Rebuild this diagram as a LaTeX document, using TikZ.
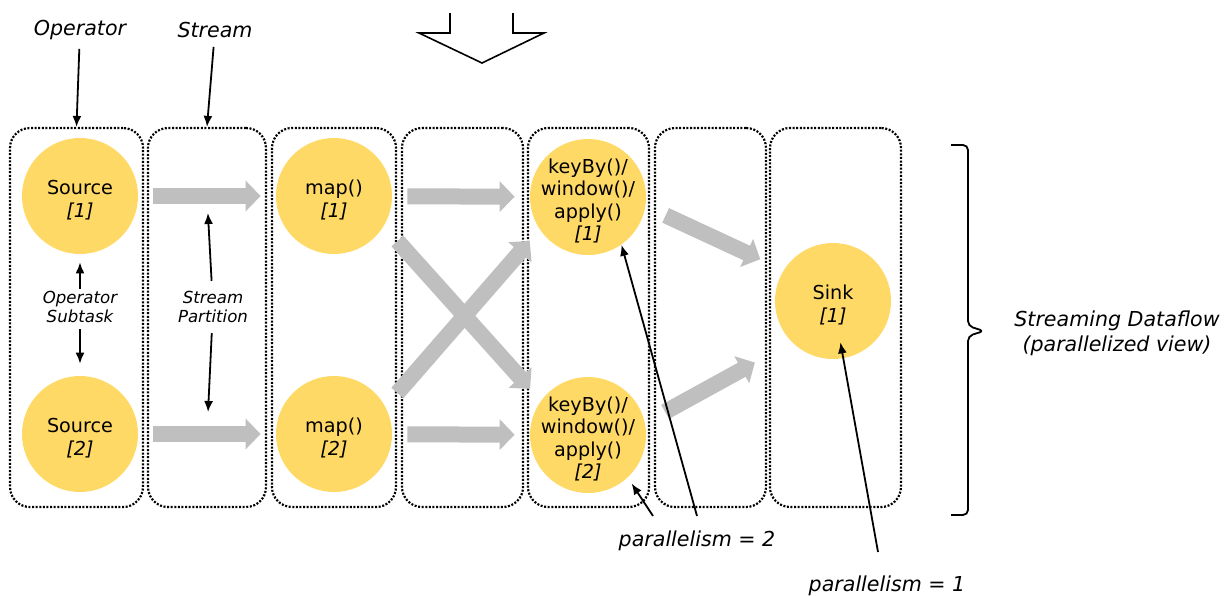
\documentclass[tikz,border=0pt]{standalone}
\usepackage{fontspec}
\setmainfont{DejaVu Sans}
\usetikzlibrary{arrows.meta}

\definecolor{taskfill}{HTML}{FFD966}
\definecolor{flowgray}{HTML}{BFBFBF}
\newcommand{\rowA}{196}
\newcommand{\rowB}{434}
\newcommand{\colMid}{317.5}
% taller first line, pushes the circle text a bit down
\newcommand{\tasktop}{\rule{0pt}{11.3pt}}

\tikzset{
  stage/.style={draw, line width=1.1pt, dash pattern=on 1pt off 0.8pt,
    rounded corners=10pt, minimum height=189.5pt, inner sep=0pt},
  task/.style={circle, fill=taskfill, minimum size=58pt, inner sep=-10pt,
    align=center, font=\fontsize{9.6}{11.3}\selectfont},
  flow/.style={flowgray, line width=8pt, -{Triangle[width=15pt,length=7.5pt]},
    shorten <=7.5pt, shorten >=7.5pt},
  note/.style={font=\fontsize{10.3}{12.4}\selectfont\itshape, align=center},
  smallnote/.style={font=\fontsize{8.3}{9.5}\selectfont\itshape, align=center, inner sep=1pt},
  pointer/.style={line width=0.9pt, -{Latex[length=5.5pt,width=4.5pt]}}
}

\begin{document}
\begin{tikzpicture}[x=0.5pt, y=-0.5pt]
    \useasboundingbox (0,0) rectangle (1226,595);

    % Dotted columns: operators and streams
    \foreach \bx/\cx/\w in {box1/76.5/66.5pt, box2/207/59pt, box3/334/62pt,
        box4/462.5/60.5pt, box5/588.5/60.5pt, box6/710.5/55.5pt, box7/835.5/65.5pt}
        \node[stage, minimum width=\w] (\bx) at (\cx,\colMid) {};

    % Operator subtasks
    \node[task] (src1) at (80,\rowA) {\tasktop Source\\\textit{[1]}};
    \node[task] (src2) at (80,\rowB) {\tasktop Source\\\textit{[2]}};
    \node[task] (map1) at (334,\rowA) {\tasktop map()\\\textit{[1]}};
    \node[task] (map2) at (334,\rowB) {\tasktop map()\\\textit{[2]}};
    \node[task] (key1) at (588,197) {\tasktop keyBy()/\\window()/\\apply()\\\textit{[1]}};
    \node[task] (key2) at (588,435) {\tasktop keyBy()/\\window()/\\apply()\\\textit{[2]}};
    \node[task] (sink) at (833,301) {\tasktop Sink\\\textit{[1]}};

    % Stream partitions
    \draw[flow] (src1) -- coordinate (s1mid) (map1);
    \draw[flow] (src2) -- coordinate (s2mid) (map2);
    \draw[flow] (map1) -- (key1);
    \draw[flow] (map2) -- (key2);
    \draw[flow, shorten <=10pt, shorten >=8pt] (map1.-31) -- (key2.144);
    \draw[flow, shorten <=9pt, shorten >=7.5pt] (map2.28) -- (key1.-146);
    \draw[flow, shorten <=11pt, shorten >=12.8pt] (key1.-9) -- (sink.148);
    \draw[flow, shorten <=11.4pt, shorten >=21pt] (key2.12) -- (sink.-135);

    % Hollow arrow on top
    \draw[line width=0.8pt] (450,13) -- (450,33) -- (419,33) -- (482,63)
        -- (544,33) -- (513,33) -- (513,13);

    % Labels and pointers
    \node[note] (oplbl) at (80,30) {Operator};
    \node[note] (strlbl) at (215,30) {Stream};
    \draw[pointer, shorten <=1pt] (oplbl) -- (box1.north);
    \draw[pointer, shorten <=1pt] (strlbl) -- (box2.north);

    \node[smallnote] (subtask) at (80,307) {Operator\\Subtask};
    \draw[pointer, shorten >=4pt] (subtask) -- (src1);
    \draw[pointer, shorten <=2pt, shorten >=6pt] (subtask) -- (src2);

    \node[smallnote] (part) at (213,307) {Stream\\Partition};
    \draw[pointer, shorten <=4pt, shorten >=8.5pt] (part) -- (s1mid);
    \draw[pointer, shorten <=4pt, shorten >=11pt] (part) -- (s2mid);

    \node[note] (par2) at (697,541) {parallelism = 2};
    \draw[pointer, shorten >=3.5pt] ([xshift=-22pt,yshift=4pt]par2.north) -- (key2.-47);
    \draw[pointer] ([yshift=4pt]par2.north) -- (key1.-55);

    \node[note] (par1) at (887,586) {parallelism = 1};
    \draw[pointer, shorten >=21pt] ([xshift=-4.5pt,yshift=8.5pt]par1.north) -- (sink.center);

    % Brace round the whole dataflow
    \draw[line width=0.9pt, rounded corners=2.5pt] (951,145) -- (968,145) -- (968,326)
        -- (984,331) -- (968,336) -- (968,515) -- (951,515);
    \node[note] (flowlbl) at (1117,333) {Streaming Dataflow\\(parallelized view)};
\end{tikzpicture}
\end{document}
